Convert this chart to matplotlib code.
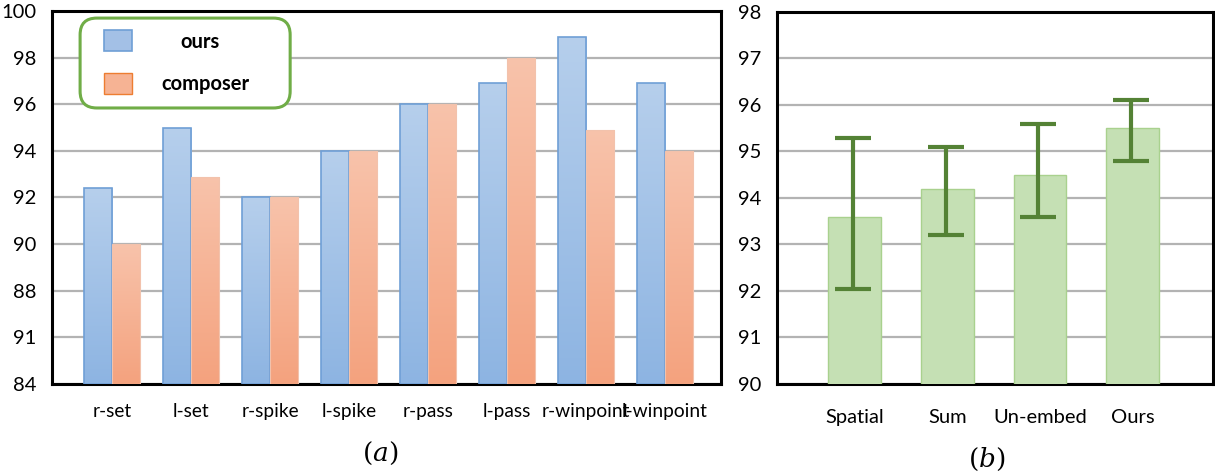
import numpy as np
import matplotlib
matplotlib.use("Agg")
import matplotlib.pyplot as plt
from matplotlib.patches import FancyBboxPatch, Rectangle
from matplotlib.colors import LinearSegmentedColormap

plt.rcParams['font.family'] = ['Lato', 'DejaVu Sans']
plt.rcParams['mathtext.fontset'] = 'dejavuserif'

# panel (a)
tasks = ["r-set", "l-set", "r-spike", "l-spike", "r-pass", "l-pass", "r-winpoint", "l-winpoint"]
ours = [92.4, 95.0, 92.0, 94.0, 96.0, 96.9, 98.9, 96.9]
composer = [90.0, 92.9, 92.0, 94.0, 96.0, 98.0, 94.9, 94.0]
yticks_a = [84, 86, 88, 90, 92, 94, 96, 98, 100]
ytick_labels_a = ["84", "91", "88", "90", "92", "94", "96", "98", "100"]

# panel (b)
variants = ["Spatial", "Sum", "Un-embed", "Ours"]
acc = [93.6, 94.2, 94.5, 95.5]
err_low = [92.05, 93.2, 93.6, 94.8]
err_high = [95.3, 95.1, 95.6, 96.1]
yticks_b = [90, 91, 92, 93, 94, 95, 96, 97, 98]

blue_cm = LinearSegmentedColormap.from_list("b", ["#b6cfec", "#8db4e2"])
orange_cm = LinearSegmentedColormap.from_list("o", ["#f8c3ab", "#f4a27e"])
grid_c = "#b3b3b3"


def gradient_fill(ax, bars, cmap):
    grad = np.linspace(0, 1, 256).reshape(-1, 1)
    for b in bars:
        x0, y0 = b.get_x(), b.get_y()
        x1, y1 = x0 + b.get_width(), y0 + b.get_height()
        im = ax.imshow(grad, cmap=cmap, extent=(x0, x1, y0, y1), aspect="auto",
                       origin="upper", zorder=b.get_zorder() - 0.1)
        im.set_clip_path(b)
        b.set_facecolor("none")


def style_axes(ax):
    for s in ax.spines.values():
        s.set_color("black")
        s.set_linewidth(2.2)
    ax.yaxis.grid(True, color=grid_c, linewidth=1.6)
    ax.set_axisbelow(True)
    ax.tick_params(axis="both", length=0, labelsize=14.5, colors="black")


fig = plt.figure(figsize=(12.15, 4.76), dpi=100)

# ---- (a)
ax1 = fig.add_axes([0.0428, 0.1933, 0.5506, 0.7836])
x = np.arange(len(tasks))
w = 0.355
base = 84
b1 = ax1.bar(x - w / 2, np.array(ours) - base, w, bottom=base, color="#a3c0e6",
             edgecolor="#6f9fd6", linewidth=1.2, zorder=3)
b2 = ax1.bar(x + w / 2, np.array(composer) - base, w, bottom=base, color="#f6b394",
             edgecolor="#f2c2ac", linewidth=0.8, zorder=3)
ax1.set_xlim(-0.76, 7.71)
ax1.set_ylim(84, 100)
gradient_fill(ax1, b1, blue_cm)
gradient_fill(ax1, b2, orange_cm)
style_axes(ax1)
ax1.set_yticks(yticks_a)
ax1.set_yticklabels(ytick_labels_a)
ax1.set_xticks(x)
ax1.set_xticklabels(tasks)
ax1.tick_params(axis="y", pad=11)
ax1.tick_params(axis="x", pad=14, labelsize=13.8)

# legend box
leg = FancyBboxPatch((0.042, 0.74), 0.314, 0.241,
                     boxstyle="round,pad=0,rounding_size=0.025",
                     transform=ax1.transAxes, facecolor="white", edgecolor="#70ad47",
                     linewidth=2.2, zorder=6, mutation_aspect=1.79)
ax1.add_patch(leg)
ax1.add_patch(Rectangle((0.077, 0.893), 0.043, 0.056, transform=ax1.transAxes,
                        facecolor="#a3c0e6", edgecolor="#6f9fd6", linewidth=1.2, zorder=7))
ax1.add_patch(Rectangle((0.077, 0.777), 0.043, 0.057, transform=ax1.transAxes,
                        facecolor="#f6b394", edgecolor="#ed7d31", linewidth=1.0, zorder=7))
ax1.text(0.221, 0.918, "ours", transform=ax1.transAxes, ha="center", va="center",
         fontsize=14.5, fontweight="bold", zorder=8)
ax1.text(0.23, 0.805, "composer", transform=ax1.transAxes, ha="center", va="center",
         fontsize=14.5, fontweight="bold", zorder=8)

# ---- (b)
ax2 = fig.add_axes([0.6395, 0.1933, 0.359, 0.7815])
xb = np.arange(len(variants))
bars = ax2.bar(xb, acc, 0.57, color="#c5e0b4", edgecolor="#a9d18e", linewidth=1.0, zorder=3)
yerr = [np.array(acc) - np.array(err_low), np.array(err_high) - np.array(acc)]
ax2.errorbar(xb - 0.02, acc, yerr=yerr, fmt="none", ecolor="#548235", elinewidth=3,
             capsize=13, capthick=3, zorder=4)
ax2.set_xlim(-0.84, 3.87)
ax2.set_ylim(90, 98)
style_axes(ax2)
ax2.set_yticks(yticks_b)
ax2.set_xticks(xb)
ax2.set_xticklabels(variants)
ax2.tick_params(axis="y", pad=11)
ax2.tick_params(axis="x", pad=18)

fig.text(0.313, 0.048, r"$(a)$", ha="center", va="center", fontsize=19)
fig.text(0.812, 0.034, r"$(b)$", ha="center", va="center", fontsize=19)

fig.savefig("out.png", dpi=100)
